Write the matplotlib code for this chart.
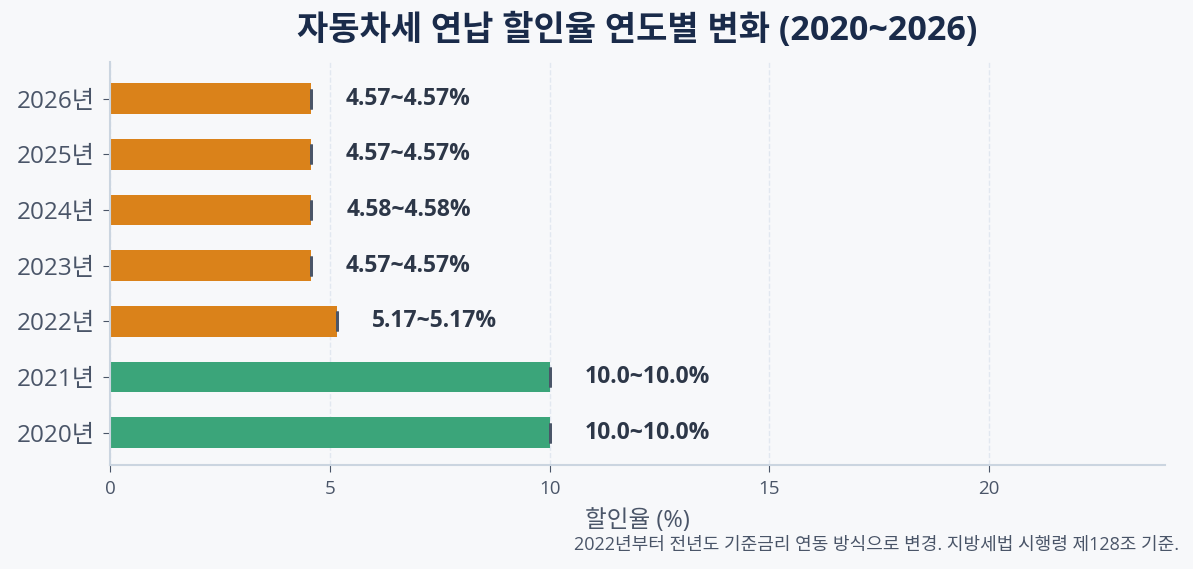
import matplotlib
matplotlib.use("Agg")
import matplotlib.pyplot as plt

plt.rcParams['font.family'] = ['Open Sans', 'Noto Sans CJK KR', 'DejaVu Sans']

years = ['2020년', '2021년', '2022년', '2023년', '2024년', '2025년', '2026년']
rate_min = [10.0, 10.0, 5.17, 4.57, 4.58, 4.57, 4.57]
rate_max = [10.0, 10.0, 5.17, 4.57, 4.58, 4.57, 4.57]
labels = ['10.0~10.0%', '10.0~10.0%', '5.17~5.17%', '4.57~4.57%', '4.58~4.58%', '4.57~4.57%', '4.57~4.57%']
colors = ['#3BA57A', '#3BA57A', '#DA821A', '#DA821A', '#DA821A', '#DA821A', '#DA821A']

bg = '#F7F8FA'
fig = plt.figure(figsize=(11.93, 5.69), dpi=100, facecolor=bg)
ax = fig.add_axes([0.0922, 0.1828, 0.8843, 0.7082], facecolor=bg)

ypos = list(range(len(years)))
ax.barh(ypos, rate_max, height=0.55, color=colors, zorder=2)
ax.errorbar(rate_max, ypos, xerr=[[r1 - r0 for r0, r1 in zip(rate_min, rate_max)], [0] * len(years)],
            fmt='none', ecolor='#4A5568', elinewidth=1.5, capsize=7, capthick=2, zorder=3)

for y, v, lab in zip(ypos, rate_max, labels):
    ax.text(v + 0.8, y, lab, va='center', ha='left', fontsize=16.5, fontweight='bold', color='#2D3748')

ax.set_xlim(0, 24)
ax.set_ylim(-0.58, 6.66)
ax.set_yticks(ypos)
ax.set_yticklabels(years, fontsize=17.5, color='#4A5568')
ax.set_xticks([0, 5, 10, 15, 20])
ax.tick_params(axis='x', labelsize=13.5, colors='#4A5568', length=5, color='#4A5568', pad=6)
ax.tick_params(axis='y', length=5, color='#4A5568', pad=6)
ax.grid(axis='x', linestyle='--', color='#E2E8F0', linewidth=1, zorder=0)
ax.set_axisbelow(True)
for s in ['top', 'right']:
    ax.spines[s].set_visible(False)
for s in ['left', 'bottom']:
    ax.spines[s].set_color('#CBD5E0')
    ax.spines[s].set_linewidth(1.5)

ax.set_xlabel('할인율 (%)', fontsize=17, color='#4A5568', labelpad=8)
fig.text(0.534, 0.947, '자동차세 연납 할인율 연도별 변화 (2020~2026)', fontsize=24.5, fontweight='bold',
         color='#1A2B4A', ha='center', va='center')
fig.text(0.988, 0.042, '2022년부터 전년도 기준금리 연동 방식으로 변경. 지방세법 시행령 제128조 기준.',
         ha='right', va='center', fontsize=13, color='#4A5568')

fig.savefig('out.png', dpi=100, facecolor=bg)
